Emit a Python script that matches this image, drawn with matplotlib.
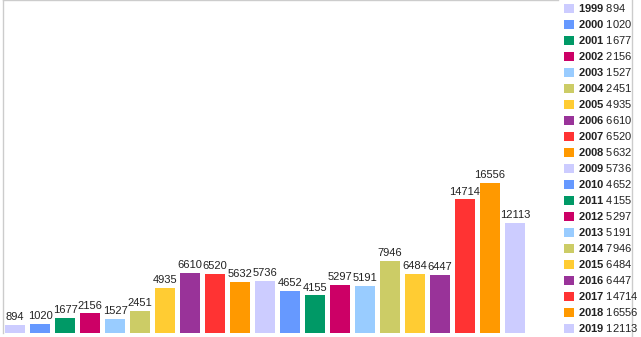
import matplotlib.pyplot as plt
from matplotlib.lines import Line2D

plt.rcParams['font.family'] = ['Liberation Sans', 'DejaVu Sans']
plt.rcParams['mathtext.fontset'] = 'custom'
plt.rcParams['mathtext.rm'] = 'Liberation Sans'
plt.rcParams['mathtext.bf'] = 'Liberation Sans:bold'

# data
years = [1999, 2000, 2001, 2002, 2003, 2004, 2005, 2006, 2007, 2008, 2009,
         2010, 2011, 2012, 2013, 2014, 2015, 2016, 2017, 2018, 2019]
counts = [894, 1020, 1677, 2156, 1527, 2451, 4935, 6610, 6520, 5632, 5736,
          4652, 4155, 5297, 5191, 7946, 6484, 6447, 14714, 16556, 12113]
palette = ['#ccccff', '#6699ff', '#009966', '#cc0066', '#99ccff',
           '#cccc66', '#ffcc33', '#993399', '#ff3333', '#ff9900']

W, H = 641, 337
fig = plt.figure(figsize=(W / 100, H / 100), dpi=100)
ax = fig.add_axes([3 / W, 4 / H, 555 / W, 333 / H])

handles = []
for i, (yr, c) in enumerate(zip(years, counts)):
    b = ax.bar(i, c, width=0.8, color=palette[i % len(palette)], linewidth=0)
    handles.append(b[0])
    ax.annotate(str(c), (i, c), xytext=(0, 2), textcoords='offset points',
                ha='center', va='bottom', fontsize=8, color='#222222')

ax.set_xlim(-0.48, 21.72)
ax.set_ylim(0, 36700)
ax.set_xticks([])
ax.set_yticks([])
for s in ['right', 'bottom']:
    ax.spines[s].set_visible(False)
for s in ['top', 'left']:
    ax.spines[s].set_color('#cccccc')
    ax.spines[s].set_linewidth(1)

labels = [r'$\bf{%d}$ %d' % (yr, c) for yr, c in zip(years, counts)]
fig.legend(handles, labels, loc='upper left',
           bbox_to_anchor=(564 / W, 1 - 2 / H), frameon=False,
           fontsize=8, handlelength=0.9, handleheight=0.9,
           handletextpad=0.4, labelspacing=0.36, borderpad=0,
           borderaxespad=0, labelcolor='#222222')

fig.add_artist(Line2D([632 / W, 632 / W], [0, 1], color='#cccccc',
                      linewidth=1, transform=fig.transFigure))

fig.savefig('out.png', dpi=100)
